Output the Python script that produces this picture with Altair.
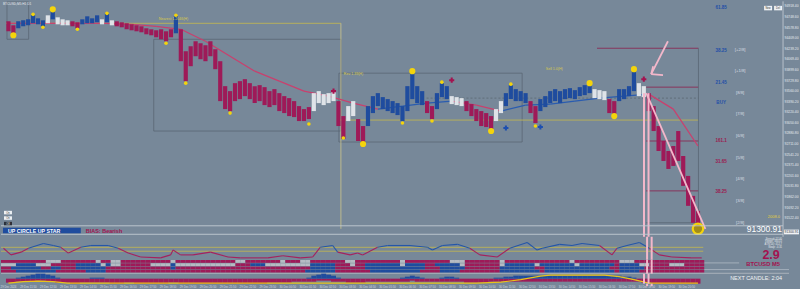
import altair as alt
import pandas as pd

# ---------------- colours / layout ----------------
BG = "#778899"
RED = "#9e1a58"
BLUE = "#1f4c9e"
WHITE = "#dfe3e8"
GREY = "#b5bbc3"
PINK = "#f3b7ca"
YELLOW = "#f4d40c"
OLIVE = "#bdb356"
DARKRED = "#8a2a55"
LINE = "#5a6774"
MA_RED = "#c9406e"
MA_BLUE = "#2a5cb0"
FONT = "Liberation Sans"

W = 800
H_MAIN, H_OSC, H_ROWS, H_HIST, H_TIME = 236, 23, 14, 10, 6
X_DOMAIN = [-0.5, 159.5]
P_DOMAIN = [91224, 95000]

# ---------------- data ----------------
bar_high = [94680, 94616, 94680, 94696, 94712, 94776, 94728, 94696, 94776, 94856,
            94744, 94712, 94696, 94680, 94664, 94712, 94760, 94728, 94776, 94712,
            94808, 94696, 94680, 94664, 94648, 94632, 94616, 94600, 94568, 94552,
            94536, 94552, 94520, 94552, 94760, 94552, 94200, 94280, 94360, 94328,
            94296, 94360, 94232, 94040, 93640, 93560, 93688, 93720, 93752, 93688,
            93640, 93656, 93624, 93560, 93592, 93528, 93480, 93448, 93400, 93320,
            93272, 93304, 93528, 93560, 93512, 93528, 93560, 93400, 93160, 93320,
            93400, 93112, 93000, 93320, 93480, 93528, 93464, 93432, 93400, 93368,
            93320, 93640, 93880, 93640, 93560, 93400, 93320, 93528, 93688, 93640,
            93480, 93464, 93448, 93400, 93352, 93272, 93240, 93208, 93160, 93272,
            93400, 93528, 93656, 93592, 93560, 93528, 93400, 93320, 93432, 93480,
            93560, 93592, 93560, 93592, 93608, 93576, 93624, 93656, 93688, 93592,
            93576, 93560, 93432, 93400, 93592, 93592, 93640, 93880, 93688, 93640,
            93528, 93320, 93000, 92760, 92600, 92680, 92920, 92520, 92200, 91880,
            91640]
bar_low = [94520, 94472, 94568, 94600, 94616, 94648, 94632, 94600, 94648, 94712,
           94632, 94616, 94616, 94600, 94568, 94632, 94648, 94648, 94664, 94632,
           94664, 94616, 94600, 94584, 94552, 94536, 94520, 94504, 94472, 94456,
           94424, 94392, 94360, 94424, 94488, 94040, 93720, 93960, 94120, 94072,
           94040, 94120, 93912, 93400, 93272, 93240, 93400, 93432, 93480, 93432,
           93368, 93400, 93336, 93304, 93336, 93240, 93208, 93160, 93144, 93080,
           93080, 93112, 93240, 93368, 93336, 93368, 93400, 93000, 92792, 93080,
           93160, 92760, 92728, 93000, 93208, 93320, 93272, 93240, 93208, 93176,
           93080, 93240, 93432, 93368, 93336, 93208, 93112, 93272, 93464, 93432,
           93352, 93336, 93320, 93240, 93160, 93080, 93000, 92984, 92952, 93080,
           93208, 93320, 93432, 93400, 93400, 93368, 93208, 93048, 93240, 93304,
           93368, 93400, 93368, 93432, 93448, 93432, 93480, 93496, 93528, 93448,
           93432, 93416, 93208, 93160, 93400, 93432, 93480, 93560, 93480, 93464,
           93240, 92920, 92600, 92440, 92312, 92360, 92440, 92040, 91720, 91448,
           91300.91]
bar_color_runs = [("R", 2), ("B", 6), ("W", 1), ("B", 1), ("W", 3), ("R", 2), ("B", 4), ("W", 1),
                  ("B", 1), ("W", 1), ("R", 12), ("B", 1), ("R", 27), ("W", 5), ("R", 2), ("W", 2),
                  ("R", 2), ("B", 12), ("R", 2), ("B", 3), ("W", 3), ("R", 6), ("W", 2), ("B", 5),
                  ("R", 2), ("B", 11), ("W", 3), ("R", 2), ("B", 4), ("W", 2), ("R", 11)]

ma_index = [0, 5, 10, 15, 20, 25, 30, 35, 40, 45, 50, 55, 60, 65, 70, 75, 80, 85, 90, 95,
            100, 105, 110, 115, 120, 125, 130, 135, 140]
ma_value = [94648, 94648, 94648, 94648, 94648, 94632, 94600, 94552, 94360, 94120, 93880, 93720,
            93560, 93480, 93368, 93272, 93320, 93368, 93400, 93336, 93240, 93336, 93352, 93400,
            93448, 93480, 93512, 93272, 92680]
ma_color_runs = [("R", 15), ("B", 3), ("R", 2), ("B", 6), ("R", 2)]

swing_index = [1, 5, 7, 9, 14, 20, 32, 34, 36, 45, 61, 68, 72, 80, 82, 86, 88, 98, 102, 107, 118, 123, 127]
swing_price = [94456, 94792, 94584, 94872, 94552, 94808, 94328, 94776, 93688, 93208, 93032, 92808,
               92712, 93048, 93880, 93080, 93704, 92920, 93672, 93000, 93688, 93160, 93912]
swing_big = [1, 0, 0, 1, 0, 0, 0, 0, 0, 0, 0, 0, 1, 0, 1, 0, 0, 1, 0, 0, 1, 1, 1]
last_swing = (140, 91352)

cross_index = [66, 90, 129, 101, 108]
cross_price = [93560, 93736, 93752, 92968, 92984]
cross_side = ["R", "R", "R", "B", "B"]

box_x0 = [-0.3, 29.5, 67.1]
box_x1 = [4.1, 67.5, 104.3]
box_p_top = [94990, 94392, 93848]
box_p_bot = [94392, 92920, 92744]

level_price = [94648, 93096, 94248, 93624, 92760, 91960, 91448]
level_x0 = [-0.5, 67.1, 119.5, 129.5, 129.5, 129.5, 129.5]
level_x1 = [67.5, 140.1, 140.1, 140.1, 140.1, 140.1, 140.1]
level_kind = ["O", "O", "D", "D", "D", "D", "G"]
dashed_price, dashed_x0, dashed_x1 = [93448], [84.9], [140.1]

pink_lines = [  # (x0, p0, x1, p1)
    (129.5, 93528, 141.5, 91352),
    (133.9, 94360, 130.5, 93832),
    (130.5, 93832, 130.9, 93960),
    (130.5, 93832, 132.9, 93816),
]
pink_v_index = [129.04, 129.96]
pink_v_top = 93528

fib_text = ["61.85", "38.25", "21.45", "BUY", "161.1", "31.65", "38.25"]
fib_price = [94888, 94200, 93688, 93368, 92760, 92424, 91944]
fib_side = ["B", "B", "B", "B", "R", "R", "R"]

murrey_text = ["[+2/8]", "[+1/8]", "[8/8]", "[7/8]", "[6/8]", "[5/8]", "[4/8]", "[3/8]", "[2/8]"]
murrey_price = [94216, 93880, 93528, 93192, 92840, 92488, 92152, 91800, 91448]

price_ticks = [94918.40, 94748.60, 94578.80, 94409.00, 94239.20, 94069.40, 93899.60, 93729.80,
               93560.00, 93390.20, 93220.40, 93050.60, 92880.80, 92711.00, 92541.20, 92371.40,
               92201.60, 92031.80, 91862.00, 91692.20, 91522.40]
last_price = 91300.91

small_notes = ["Nearest 1.2046(H)", "Rev 1.39(H)", "Sell 1.0(H)"]
small_note_index = [30.5, 68.1, 109.1]
small_note_price = [94712, 93832, 93912]

osc_index = [0, 1.5, 3.5, 5, 8, 10, 11.5, 13, 15.5, 17.5, 21, 23, 25, 27.5, 31.5, 33.5, 34, 35.5, 38,
             41.5, 45, 47.5, 53, 56, 59.5, 62, 63.5, 66, 67, 69.5, 71, 72, 75, 77, 81.5, 85, 86, 88,
             91, 93.5, 95.5, 99, 101.5, 105, 107, 108, 111.5, 114, 116, 119.5, 122, 123, 125, 127.5,
             129.5, 131.5, 134, 138, 140]
osc_value = [50, 21, 33, 50, 71, 62, 54, 29, 54, 62, 62, 50, 29, 12, 8, 21, 42, 21, 21, 33, 12, 8, 8,
             17, 8, 12, 54, 62, 33, 21, 29, 21, 54, 62, 62, 54, 42, 62, 67, 50, 21, 12, 50, 75, 42,
             50, 67, 62, 71, 62, 21, 50, 62, 75, 50, 21, 12, 8, 8]
osc_levels = [54, 37]

row_runs = {
    "A": [("R", 9), ("G", 3), ("R", 7), ("G", 1), ("R", 2), ("G", 2), ("R", 10), ("G", 1), ("R", 12),
          ("G", 2), ("R", 7), ("G", 1), ("R", 3), ("G", 2), ("R", 7), ("G", 2), ("R", 9), ("G", 1),
          ("R", 9), ("G", 3), ("R", 7), ("G", 1), ("R", 13), ("G", 1), ("R", 9), ("G", 3), ("R", 14)],
    "B": [("G", 3), ("B", 4), ("G", 3), ("R", 5), ("B", 5), ("G", 1), ("B", 1), ("G", 2), ("R", 6),
          ("G", 4), ("B", 1), ("G", 12), ("R", 3), ("B", 3), ("G", 9), ("B", 5), ("R", 3), ("G", 1),
          ("R", 2), ("B", 7), ("G", 1), ("B", 4), ("R", 2), ("B", 5), ("G", 1), ("R", 7), ("G", 1),
          ("B", 6), ("G", 1), ("B", 7), ("G", 1), ("B", 7), ("R", 1), ("B", 4), ("G", 2), ("R", 4),
          ("G", 3), ("R", 4)],
    "C": [("R", 2), ("B", 6), ("R", 2), ("B", 2), ("R", 3), ("B", 6), ("R", 13), ("B", 1), ("R", 27),
          ("B", 5), ("R", 6), ("B", 12), ("R", 3), ("B", 5), ("R", 7), ("B", 7), ("R", 2), ("B", 13),
          ("R", 2), ("B", 5), ("R", 12)],
    "D": [("R", 3), ("B", 8), ("R", 6), ("B", 4), ("R", 40), ("B", 6), ("R", 7), ("B", 10), ("R", 4),
          ("B", 4), ("R", 8), ("B", 8), ("R", 1), ("B", 14), ("R", 1), ("B", 4), ("R", 13)],
}

blue_humps = [(2, [1, 2, 3, 4, 5, 5, 4, 3, 1]), (17, [1, 1, 1]), (61, [1, 3, 4, 5, 4, 3, 1]),
              (80, [1, 2, 3, 2, 1]), (88, [1, 2, 2, 1]),
              (99, [1, 1, 2, 2, 3, 3, 3, 3, 3, 3, 3, 3, 3, 3, 3, 3, 3, 3, 3, 3, 3, 3, 3, 3, 3, 3, 2, 2, 1])]
red_depth = [-4, -4, -3, -3, -3, -3, -2, -2, -3, -3,
             -4, -4, -4, -5, -5, -4, -4, -4, -4, -4,
             -4, -5, -5, -5, -4, -4, -5, -5, -5, -5,
             -5, -5, -5, -4, -4, -5, -5, -5, -5, -5,
             -5, -5, -5, -5, -5, -5, -5, -5, -5, -5,
             -5, -5, -5, -4, -4, -4, -4, -4, -3, -3,
             -3, -3, -3, -2, -2, -2, -3, -3, -3, -4,
             -4, -4, -4, -3, -3, -3, -3, -3, -3, -3,
             -3, -3, -2, -3, -3, -3, -3, -3, -3, -3,
             -3, -3, -3, -4, -4, -4, -4, -4, -3, -3,
             -3, -3, -3, -3, -3, -3, -3, -3, -3, -3,
             -3, -3, -3, -3, -3, -3, -3, -3, -3, -3,
             -3, -3, -3, -3, -3, -3, -3, -3, -3, -4,
             -4, -5, -5, -5, -5, -5, -5, -5, -5, -5, -5]
trend_line_index = [0, 3, 6, 9, 12, 95, 100, 104, 108, 110, 121, 124, 127, 130, 140]
trend_line_value = [-4.5, -3, -2.5, -3, -4.5, -4.5, -3.5, -1, 2.5, 3.5, 3.5, 2, -1, -4.5, -4.5]

time_label_index = [1, 5, 9, 13, 17, 21, 25, 29, 33, 37, 41, 45, 49, 53, 57, 61, 65, 69, 73, 77, 81,
                    85, 89, 93, 97, 101, 105, 109, 113, 117, 121, 125, 129, 133, 137]
time_label_text = ["29 Dec 2024", "29 Dec 11:50", "29 Dec 12:50", "29 Dec 13:50", "29 Dec 14:50",
                   "29 Dec 15:50", "29 Dec 16:50", "29 Dec 17:50", "29 Dec 18:50", "29 Dec 19:50",
                   "29 Dec 20:50", "29 Dec 21:50", "29 Dec 22:50", "29 Dec 23:50", "30 Dec 00:50",
                   "30 Dec 01:50", "30 Dec 02:50", "30 Dec 03:50", "30 Dec 04:50", "30 Dec 05:50",
                   "30 Dec 06:50", "30 Dec 07:50", "30 Dec 08:50", "30 Dec 09:50", "30 Dec 10:50",
                   "30 Dec 11:50", "30 Dec 12:50", "30 Dec 13:50", "30 Dec 14:50", "30 Dec 15:50",
                   "30 Dec 16:50", "30 Dec 17:50", "30 Dec 18:50", "30 Dec 19:50", "30 Dec 20:50"]

info_lines = ["Spread: 17.00", "Range: 3341.0", "ATR(14): 412.7", "Swap: -0.31"]

# ---------------- helpers ----------------
CMAP = {"R": RED, "B": BLUE, "W": WHITE, "G": GREY}
ONE = pd.DataFrame({"t": [""]})


def xq(f):
    return alt.X(f"{f}:Q", scale=alt.Scale(domain=X_DOMAIN, nice=False, zero=False), axis=None)


def pq(f):
    return alt.Y(f"{f}:Q", scale=alt.Scale(domain=P_DOMAIN, nice=False, zero=False), axis=None)


def expand(runs):
    return [c for c, n in runs for _ in range(n)]


def note(text, x, y, **kw):
    kw.setdefault("font", FONT)
    return alt.Chart(pd.DataFrame({"t": [text]})).mark_text(**kw).encode(
        x=alt.value(x), y=alt.value(y), text="t:N")


def pbox(x0, x1, y0, y1, **kw):
    return alt.Chart(ONE).mark_rect(**kw).encode(
        x=alt.value(x0), x2=alt.value(x1), y=alt.value(y0), y2=alt.value(y1))


def prule(x0, x1, y0, y1, **kw):
    return alt.Chart(ONE).mark_rule(**kw).encode(
        x=alt.value(x0), x2=alt.value(x1), y=alt.value(y0), y2=alt.value(y1))


def pink_verticals(h):
    df = pd.DataFrame({"i": pink_v_index})
    return alt.Chart(df).mark_rule(color=PINK, strokeWidth=2).encode(
        x=xq("i"), y=alt.value(0), y2=alt.value(h))


# ---------------- main price panel ----------------
bars = pd.DataFrame({"i": range(len(bar_high)), "hi": bar_high, "lo": bar_low,
                     "col": [CMAP[c] for c in expand(bar_color_runs)]})
ma_cols = [MA_RED if c == "R" else MA_BLUE for c in expand(ma_color_runs)]
ma = pd.DataFrame({"x0": ma_index[:-1], "x1": ma_index[1:], "p0": ma_value[:-1],
                   "p1": ma_value[1:], "col": ma_cols})
boxes = pd.DataFrame({"x0": box_x0, "x1": box_x1, "p0": box_p_top, "p1": box_p_bot})
kind_col = {"O": OLIVE, "D": DARKRED, "G": LINE}
levels = pd.DataFrame({"x0": level_x0, "x1": level_x1, "p": level_price,
                       "col": [kind_col[k] for k in level_kind]})
dashed = pd.DataFrame({"x0": dashed_x0, "x1": dashed_x1, "p": dashed_price})
vlines = pd.DataFrame({"i": [67.5, 140.1], "p0": [94648, 94248], "p1": [91352, 91352],
                       "col": ["#cfc88a", LINE]})
pinks = pd.DataFrame(pink_lines, columns=["x0", "p0", "x1", "p1"])
pink_v = pd.DataFrame({"i": pink_v_index, "p": [pink_v_top] * len(pink_v_index)})
swings = pd.DataFrame({"i": swing_index, "p": swing_price,
                       "s": [38 if b else 13 for b in swing_big]})
last_sw = pd.DataFrame({"i": [last_swing[0]], "p": [last_swing[1]]})
crosses = pd.DataFrame({"i": cross_index, "p": cross_price,
                        "col": ["#a3124f" if s == "R" else "#1d4fb0" for s in cross_side]})
fibs = pd.DataFrame({"t": fib_text, "p": fib_price,
                     "col": ["#2350a8" if s == "B" else "#9c1a50" for s in fib_side]})
murrey = pd.DataFrame({"t": murrey_text, "p": murrey_price})
ticks = pd.DataFrame({"p": price_ticks})
notes = pd.DataFrame({"t": small_notes, "i": small_note_index, "p": small_note_price})
lastp = pd.DataFrame({"p": [last_price], "p0": [last_price + 38], "p1": [last_price - 38]})

main_layers = [
    alt.Chart(boxes).mark_rect(fill="transparent", stroke=LINE, strokeWidth=0.8).encode(
        x=xq("x0"), x2="x1", y=pq("p0"), y2="p1"),
    alt.Chart(levels).mark_rule(strokeWidth=0.9).encode(
        x=xq("x0"), x2="x1", y=pq("p"), color=alt.Color("col:N", scale=None)),
    alt.Chart(dashed).mark_rule(strokeWidth=0.8, strokeDash=[2, 2], color=LINE).encode(
        x=xq("x0"), x2="x1", y=pq("p")),
    alt.Chart(vlines).mark_rule(strokeWidth=0.8).encode(
        x=xq("i"), y=pq("p0"), y2="p1", color=alt.Color("col:N", scale=None)),
    alt.Chart(ma).mark_rule(strokeWidth=1.3).encode(
        x=xq("x0"), x2="x1", y=pq("p0"), y2="p1", color=alt.Color("col:N", scale=None)),
    alt.Chart(bars).mark_bar(width=4.2, orient="vertical").encode(
        x=xq("i"), y=pq("lo"), y2="hi", color=alt.Color("col:N", scale=None)),
    alt.Chart(pink_v).mark_rule(color=PINK, strokeWidth=2).encode(
        x=xq("i"), y=pq("p"), y2=alt.value(H_MAIN)),
    alt.Chart(pinks).mark_rule(color=PINK, strokeWidth=1.8).encode(
        x=xq("x0"), x2="x1", y=pq("p0"), y2="p1"),
    alt.Chart(swings).mark_point(filled=True, shape="circle", color=YELLOW, opacity=1).encode(
        x=xq("i"), y=pq("p"), size=alt.Size("s:Q", scale=None)),
    alt.Chart(last_sw).mark_point(filled=True, shape="circle", color="#a08c1c", opacity=1,
                                  stroke=YELLOW, strokeWidth=2.2, size=110).encode(
        x=xq("i"), y=pq("p")),
    alt.Chart(crosses).mark_point(shape="cross", filled=True, size=26, opacity=1).encode(
        x=xq("i"), y=pq("p"), color=alt.Color("col:N", scale=None)),
    alt.Chart(notes).mark_text(align="left", baseline="middle", fontSize=3.6, color="#d9c94a",
                               font=FONT).encode(x=xq("i"), y=pq("p"), text="t:N"),
    alt.Chart(fibs).mark_text(align="center", baseline="middle", fontSize=4.6, fontWeight="bold",
                              font=FONT).encode(
        x=alt.value(722), y=pq("p"), text="t:N", color=alt.Color("col:N", scale=None)),
    alt.Chart(murrey).mark_text(align="center", baseline="middle", fontSize=4.2, color="#d7dde3",
                                font=FONT).encode(x=alt.value(741), y=pq("p"), text="t:N"),
    # price scale on the right
    prule(784, 784, 0, H_MAIN, color="#c9d0d7", strokeWidth=0.8),
    alt.Chart(ticks).mark_text(align="left", baseline="middle", fontSize=3.4, color="#e4e9ee",
                               font=FONT, clip=True).encode(
        x=alt.value(785.5), y=pq("p"), text=alt.Text("p:Q", format=".2f")),
    alt.Chart(lastp).mark_rect(color="#f2f4f6").encode(
        x=alt.value(785), x2=alt.value(800), y=pq("p0"), y2="p1"),
    alt.Chart(lastp).mark_text(align="left", baseline="middle", fontSize=3.4, color="#333a44",
                               font=FONT, clip=True).encode(
        x=alt.value(785.5), y=pq("p"), text=alt.Text("p:Q", format=".2f")),
    # separators and info bar
    prule(0, 784, 225, 225, color="#c3cad2", strokeWidth=0.9),
    prule(0, 784, 233.5, 233.5, color="#c3cad2", strokeWidth=0.9),
    pbox(2, 80, 227, 232.5, color="#1f4c9e"),
    note("UP CIRCLE   UP STAR", 7, 229.9, align="left", baseline="middle", fontSize=5.3,
         fontWeight="bold", color="white"),
    note("BIAS: Bearish", 85, 229.9, align="left", baseline="middle", fontSize=5.5,
         fontWeight="bold", color="#a3124f"),
    note(f"{last_price:.2f}", 783, 228.5, align="right", baseline="middle", fontSize=8.5,
         color="white"),
    note("2008.0", 781, 216, align="right", baseline="middle", fontSize=4, color="#e2cf3a"),
    # small buttons
    pbox(3, 11, 210, 213.5, color="#eef1f4"),
    pbox(3, 11, 215.5, 219, color="#eef1f4"),
    pbox(3, 11, 221, 224.5, color="#2b2f36"),
    note("On", 7, 211.8, align="center", baseline="middle", fontSize=2.6, color="#333"),
    note("On", 7, 217.3, align="center", baseline="middle", fontSize=2.6, color="#333"),
    note("Off", 7, 222.8, align="center", baseline="middle", fontSize=2.6, color="#eee"),
    pbox(765, 773, 4.5, 9, color="#eef1f4"),
    pbox(775, 783, 4.5, 9, color="#eef1f4"),
    note("New", 769, 6.8, align="center", baseline="middle", fontSize=2.6, color="#333"),
    note("Del", 779, 6.8, align="center", baseline="middle", fontSize=2.6, color="#333"),
    note("BTCUSD,M5  H1 D1", 2, 3, align="left", baseline="middle", fontSize=3.2, color="#e6eaee"),
]
main = alt.layer(*main_layers).properties(width=W, height=H_MAIN)

# ---------------- oscillator panel ----------------
osc_y = alt.Scale(domain=[0, 100], nice=False, zero=False)
osc_seg = pd.DataFrame({"x0": osc_index[:-1], "x1": osc_index[1:], "v0": osc_value[:-1],
                        "v1": osc_value[1:]})
osc_seg["col"] = ["#2456a8" if (a + b) / 2 >= 45 else "#a4225e"
                  for a, b in zip(osc_seg["v0"], osc_seg["v1"])]
osc_lv = pd.DataFrame({"v": osc_levels})
osc_layers = [
    alt.Chart(osc_lv).mark_rule(color=OLIVE, strokeWidth=0.9).encode(
        x=alt.value(0), x2=alt.value(704), y=alt.Y("v:Q", scale=osc_y, axis=None)),
    alt.Chart(osc_seg).mark_rule(strokeWidth=1.1).encode(
        x=xq("x0"), x2="x1", y=alt.Y("v0:Q", scale=osc_y, axis=None), y2="v1",
        color=alt.Color("col:N", scale=None)),
    pink_verticals(H_OSC),
]
for k, line in enumerate(info_lines):
    osc_layers.append(note(line, 783, 1.8 + 2.7 * k, align="right", baseline="middle",
                           fontSize=2.6, color="#e3e7eb"))
osc_layers.append(note("2.9", 772, 21.8, align="center", baseline="alphabetic", fontSize=12.5,
                       fontWeight="bold", color="#a3124f"))
osc_layers.append(note("BTCUSD M5", 764, 27.8, align="center", baseline="middle", fontSize=5.8,
                       fontWeight="bold", color="#a3124f"))
osc = alt.layer(*osc_layers).properties(width=W, height=H_OSC)

# ---------------- heat rows panel ----------------
ROW_TOP = {"A": 0.3, "B": 3.6, "C": 6.9, "D": 10.2}
rec = []
for r, runs in row_runs.items():
    for i, c in enumerate(expand(runs)):
        rec.append({"x0": i - 0.5, "x1": i + 0.5, "y0": ROW_TOP[r], "y1": ROW_TOP[r] + 2.8,
                    "col": CMAP[c]})
rows_df = pd.DataFrame(rec)
row_y = alt.Scale(domain=[0, H_ROWS], reverse=True, nice=False, zero=False)
rows_layers = [
    prule(705, 740, 3.2, 3.2, color="#c3cad2", strokeWidth=0.6),
    prule(705, 790, 9.9, 9.9, color="#c3cad2", strokeWidth=0.6),
    alt.Chart(rows_df).mark_rect().encode(
        x=xq("x0"), x2="x1", y=alt.Y("y0:Q", scale=row_y, axis=None), y2="y1",
        color=alt.Color("col:N", scale=None)),
    prule(0, 790, 13.6, 13.6, color="#aab2bb", strokeWidth=1),
    pink_verticals(H_ROWS),
]
rows = alt.layer(*rows_layers).properties(width=W, height=H_ROWS)

# ---------------- histogram panel ----------------
hy = alt.Scale(domain=[-5, 5], nice=False, zero=False)
hrec = [{"i": i, "h": v, "z": 0, "col": RED} for i, v in enumerate(red_depth)]
for start, vals in blue_humps:
    for k, v in enumerate(vals):
        hrec.append({"i": start + k, "h": v, "z": 0, "col": BLUE})
hist_df = pd.DataFrame(hrec)
trend_df = pd.DataFrame({"i": trend_line_index, "v": trend_line_value})
hist_layers = [
    alt.Chart(hist_df).mark_bar(width=5, orient="vertical").encode(
        x=xq("i"), y=alt.Y("h:Q", scale=hy, axis=None), y2="z", color=alt.Color("col:N", scale=None)),
    alt.Chart(trend_df).mark_line(color="#e9c21a", strokeWidth=1.2).encode(
        x=xq("i"), y=alt.Y("v:Q", scale=hy, axis=None)),
    pink_verticals(H_HIST),
    note("NEXT CANDLE: 2:04", 783, 4.5, align="right", baseline="middle", fontSize=5.5,
         color="#f2f4f6"),
]
hist = alt.layer(*hist_layers).properties(width=W, height=H_HIST)

# ---------------- time labels ----------------
tl = pd.DataFrame({"i": time_label_index, "t": time_label_text})
time_layers = [
    alt.Chart(tl).mark_text(fontSize=2.8, color="#d6dbe1", font=FONT, baseline="middle").encode(
        x=xq("i"), y=alt.value(3), text="t:N"),
    pink_verticals(2.5),
]
timep = alt.layer(*time_layers).properties(width=W, height=H_TIME)

chart = alt.vconcat(main, osc, rows, hist, timep, spacing=0, bounds="flush", padding=0).configure(
    background=BG).configure_view(stroke="transparent")

chart.save("out.html", embed_options={"renderer": "svg", "actions": False})
